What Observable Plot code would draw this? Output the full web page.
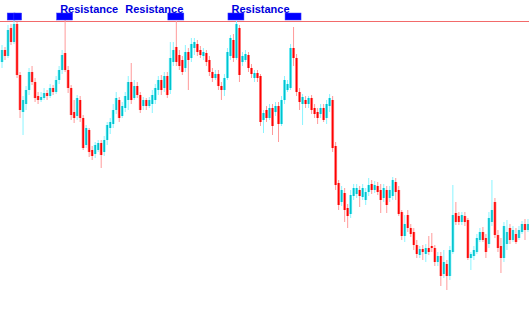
<!DOCTYPE html>
<html>
<head>
<meta charset="utf-8">
<script src="https://cdn.jsdelivr.net/npm/d3@7"></script>
<script src="https://cdn.jsdelivr.net/npm/@observablehq/plot@0.6"></script>
<style>
  html, body { margin: 0; padding: 0; background: #ffffff; }
  #chart svg { display: block; }
</style>
</head>
<body>
<div id="chart"></div>
<script>
// Candle prices (arbitrary price units)
const opens = [
  238,250,244,272,258,276,225,188,196,210,
  228,218,204,200,202,207,204,212,208,220,
  230,247,230,212,188,184,200,182,155,170,
  150,146,150,157,148,160,172,176,190,200,
  184,192,200,218,202,214,205,194,200,194,
  196,200,210,220,212,224,210,238,253,245,
  240,232,248,242,252,256,250,244,247,240,
  228,222,226,214,210,222,244,260,242,272,
  238,240,245,232,222,227,224,180,190,182,
  192,188,194,176,200,210,212,252,242,208,
  196,200,196,202,192,188,186,192,182,194,
  200,154,117,98,107,92,86,104,106,110,
  103,100,108,116,110,114,110,102,110,102,
  104,118,110,88,64,85,72,68,55,45,
  51,46,52,54,52,38,44,26,36,24,
  48,87,84,78,84,80,42,44,48,60,
  68,62,56,78,98,65,54,42,56,72,
  60,66,62,68,76,70
];
const highs = [
  255,253,275,276,281,278,228,204,214,232,
  234,222,208,208,212,210,216,215,224,234,
  250,280,234,215,200,205,204,185,175,172,
  154,158,160,160,164,178,182,196,208,203,
  198,208,224,237,220,218,208,203,202,203,
  210,216,224,225,228,228,258,258,279,250,
  244,255,252,262,262,260,254,252,250,244,
  232,230,230,218,226,252,265,266,279,275,
  248,250,248,236,230,230,226,190,194,196,
  196,198,198,204,224,220,256,273,246,212,
  206,204,204,205,196,192,196,196,200,206,
  204,158,120,114,112,96,110,116,116,114,
  116,112,122,120,119,118,116,116,114,114,
  123,122,114,90,85,90,76,72,60,54,
  55,56,64,67,55,48,48,50,40,54,
  115,98,88,88,88,82,48,54,66,72,
  73,66,88,120,102,70,62,78,80,76,
  74,72,74,79,81,81
];
const lows = [
  232,240,242,255,256,222,182,165,190,205,
  215,198,196,198,200,200,202,205,206,216,
  226,228,207,180,177,180,178,150,152,143,
  140,142,148,132,144,155,166,172,186,178,
  182,188,190,196,200,202,187,190,190,192,
  187,196,205,205,208,202,206,234,234,230,
  225,228,210,238,245,244,242,240,234,224,
  218,220,210,200,204,220,240,238,240,218,
  234,238,228,222,218,218,174,167,178,180,
  165,184,158,174,196,208,210,234,204,190,
  175,192,192,186,182,176,182,178,176,188,
  148,110,90,94,78,72,82,100,102,93,
  100,95,104,106,107,105,87,98,87,98,
  100,100,84,60,58,68,63,50,42,42,
  40,38,45,48,34,34,14,22,10,20,
  46,75,75,75,74,40,30,40,46,58,
  58,42,52,74,62,48,27,38,50,56,
  58,56,60,66,60,68
];
const closes = [
  250,244,270,258,276,225,190,200,210,228,
  218,202,200,203,207,204,212,208,220,230,
  245,230,212,185,182,202,182,152,172,148,
  144,155,157,145,160,175,178,190,202,182,
  194,204,218,200,214,205,190,200,194,200,
  205,212,220,210,224,205,242,250,238,234,
  228,248,240,256,258,248,245,248,238,228,
  222,226,214,210,222,248,262,242,276,225,
  244,246,232,226,227,222,178,187,182,192,
  174,194,176,200,220,216,252,242,208,198,
  203,196,202,190,186,182,192,180,196,202,
  152,115,95,110,90,84,105,112,112,104,
  112,108,115,110,115,108,100,112,95,110,
  120,108,86,64,76,72,66,55,46,51,
  48,52,48,52,38,44,24,38,24,50,
  85,78,78,85,78,42,46,50,62,68,
  60,48,82,90,65,52,42,74,68,60,
  70,58,70,76,70,76
];
// Resistance level and the candles that test it
const resistanceLevel = [279];
const markerCandles = [3.2, 5.4, 21, 58, 78, 97];
const markerHalfWidths = [1.3, 1.3, 2.66, 2.66, 2.66, 2.66];
const labelTexts = ["Resistance", "Resistance", "Resistance"];
const labelCandles = [21, 58, 78];

const candles = closes.map((c, i) => ({
  i, open: opens[i], high: highs[i], low: lows[i], close: c
}));

const UP = "#00c2cc", UP_LIGHT = "#8af4ff";
const DOWN = "#ff0000", DOWN_LIGHT = "#ff9a9a";
const isUp = d => d.close >= d.open;

const half = 2.66;
const labels = labelCandles.map((c, k) => ({c, text: labelTexts[k]}));
const markers = markerCandles.map((c, k) => ({c, w: markerHalfWidths[k]}));
const textStyle = {text: "text", lineAnchor: "bottom", fill: "#0000dd", fontSize: 11, fontWeight: "bold", fontFamily: "Liberation Sans, Arial, sans-serif"};

const chart = Plot.plot({
  width: 529,
  height: 313,
  margin: 0,
  x: {domain: [-0.5, candles.length - 0.5], axis: null},
  y: {domain: [-13, 300], axis: null},
  color: {type: "identity"},
  marks: [
    Plot.ruleY(resistanceLevel, {stroke: "#f26a6a", strokeWidth: 1}),
    Plot.ruleX(candles, {x: "i", y1: "low", y2: "high", stroke: d => isUp(d) ? UP_LIGHT : DOWN_LIGHT, strokeWidth: 1}),
    Plot.ruleX(candles, {x: "i", y1: "open", y2: "close", stroke: d => isUp(d) ? UP_LIGHT : DOWN_LIGHT, strokeWidth: 3}),
    Plot.ruleX(candles, {x: "i", y1: "open", y2: "close", stroke: d => isUp(d) ? UP : DOWN, strokeWidth: 1.6}),
    Plot.rect(markers, {x1: d => d.c - d.w, x2: d => d.c + d.w, y1: resistanceLevel[0] + 1, y2: resistanceLevel[0] + 8, fill: "#0000ff", stroke: "#4040ff", strokeWidth: 0.5}),
    Plot.text(labels.filter((d, k) => k !== 1), {...textStyle, x: d => d.c - half, y: resistanceLevel[0] + 9, textAnchor: "start", dx: 3}),
    Plot.text(labels.filter((d, k) => k === 1), {...textStyle, x: d => d.c + half, y: resistanceLevel[0] + 9, textAnchor: "end", dx: -1})
  ]
});
document.getElementById("chart").appendChild(chart);
</script>
</body>
</html>
